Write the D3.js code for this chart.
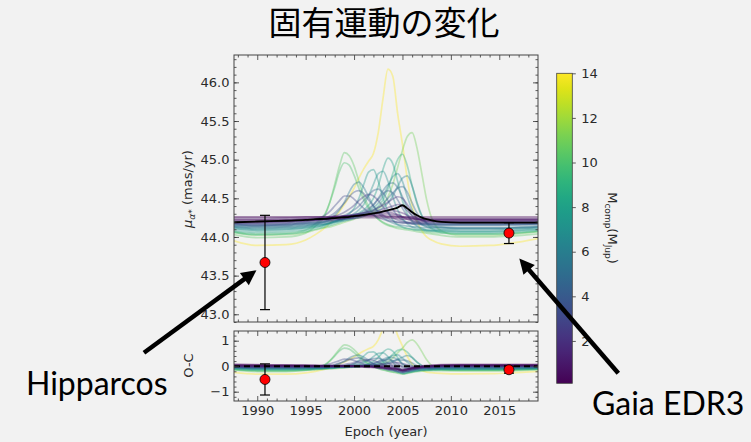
<!DOCTYPE html>
<html>
<head>
<meta charset="utf-8">
<script src="https://cdn.jsdelivr.net/npm/d3@7"></script>
<style>
body { margin: 0; background: #f2f2f2; }
svg { display: block; }
</style>
</head>
<body>
<div id="chart"></div>
<script>
// epochs shared by all model curves (year)
const epochs = [1987.6, 1990, 1993, 1995, 1996, 1997, 1997.5, 1998, 1998.5, 1999, 1999.5, 2000, 2000.5,
  2001, 2001.5, 2002, 2002.5, 2003, 2003.5, 2004, 2004.5, 2005, 2005.5, 2006, 2006.5, 2007, 2007.5,
  2008, 2009, 2011, 2014, 2019];

// best fit orbit (black line), mu_alpha* in mas/yr
const bestFit = [44.19, 44.20, 44.21, 44.22, 44.23, 44.235, 44.24, 44.245, 44.25, 44.255, 44.26, 44.27, 44.275,
  44.285, 44.295, 44.305, 44.315, 44.33, 44.345, 44.36, 44.38, 44.41, 44.37, 44.32, 44.28, 44.25, 44.23,
  44.215, 44.195, 44.185, 44.185, 44.185];

// companion mass of each sampled orbit (M_jup)
const curveMasses = [14, 11, 10.5, 10, 9, 8, 7.5, 7, 6.6, 6.2, 5.8, 5.3, 4.8, 4.4, 4.0, 3.6, 3.0, 2.6, 2.2, 1.8, 1.4, 1.2, 1.0, 0.7, 0.4, 0.2];

// mu_alpha* of each sampled orbit at the epochs above
const curveValues = [
  [43.95,43.89,43.90,43.96,44.03, 44.12,44.18,44.25,44.33,44.42,44.52,44.63,44.76,44.88,44.98,45.08,45.35,45.80,46.17,46.08,45.60,45.20,44.75,44.40,44.20,44.08,44.00,43.96, 43.91,43.88,43.89,43.98],
  [44.06,44.02,44.03,44.06,44.09, 44.12,44.13,44.15,44.17,44.19,44.21,44.23,44.25,44.27,44.29,44.32,44.36,44.42,44.52,44.68,44.90,45.12,45.30,45.35,45.15,44.82,44.48,44.25, 44.08,44.02,44.02,44.07],
  [44.03,43.99,44.00,44.05,44.14, 44.28,44.45,44.68,44.92,45.09,45.05,44.92,44.72,44.53,44.40,44.30,44.23,44.18,44.15,44.13,44.11,44.10,44.09,44.08,44.07,44.06,44.05,44.04, 44.02,44.00,44.00,44.04],
  [44.07,44.04,44.05,44.09,44.17, 44.30,44.45,44.64,44.85,44.96,44.93,44.80,44.63,44.48,44.37,44.29,44.23,44.19,44.16,44.14,44.13,44.12,44.11,44.10,44.09,44.08,44.07,44.06, 44.05,44.04,44.04,44.07],
  [44.06,44.03,44.04,44.07,44.10, 44.13,44.15,44.17,44.19,44.21,44.23,44.25,44.27,44.29,44.32,44.35,44.40,44.48,44.62,44.82,45.00,45.07,44.92,44.66,44.43,44.27,44.17,44.11, 44.06,44.04,44.04,44.08],
  [44.08,44.06,44.07,44.09,44.12, 44.15,44.17,44.19,44.21,44.23,44.25,44.28,44.31,44.35,44.41,44.50,44.66,44.88,45.02,44.95,44.72,44.47,44.30,44.20,44.14,44.11,44.09,44.08, 44.07,44.06,44.06,44.09],
  [44.10,44.08,44.09,44.11,44.13, 44.16,44.18,44.20,44.23,44.26,44.30,44.37,44.50,44.68,44.84,44.87,44.72,44.50,44.33,44.22,44.16,44.13,44.11,44.10,44.09,44.09,44.08,44.08, 44.08,44.07,44.07,44.10],
  [44.11,44.09,44.10,44.12,44.14, 44.16,44.18,44.20,44.22,44.24,44.27,44.30,44.35,44.42,44.53,44.68,44.82,44.85,44.72,44.52,44.35,44.24,44.17,44.13,44.11,44.10,44.09,44.09, 44.09,44.08,44.08,44.11],
  [44.12,44.10,44.11,44.13,44.15, 44.17,44.18,44.20,44.21,44.23,44.25,44.27,44.29,44.31,44.34,44.38,44.44,44.53,44.66,44.78,44.82,44.72,44.52,44.35,44.23,44.16,44.13,44.11, 44.10,44.10,44.10,44.12],
  [44.13,44.11,44.12,44.14,44.16, 44.17,44.18,44.19,44.20,44.21,44.22,44.24,44.25,44.27,44.29,44.31,44.34,44.38,44.44,44.53,44.65,44.76,44.79,44.66,44.45,44.28,44.18,44.14, 44.12,44.11,44.11,44.13],
  [44.13,44.12,44.13,44.15,44.17, 44.20,44.23,44.28,44.35,44.45,44.58,44.68,44.71,44.64,44.52,44.40,44.31,44.25,44.21,44.18,44.16,44.15,44.14,44.13,44.13,44.12,44.12,44.12, 44.12,44.11,44.11,44.13],
  [44.14,44.13,44.14,44.16,44.17, 44.19,44.20,44.21,44.22,44.23,44.24,44.26,44.28,44.31,44.35,44.41,44.50,44.60,44.68,44.70,44.64,44.52,44.38,44.27,44.20,44.16,44.14,44.13, 44.13,44.12,44.12,44.14],
  [44.15,44.14,44.15,44.17,44.18, 44.19,44.20,44.21,44.22,44.23,44.24,44.25,44.27,44.29,44.31,44.34,44.38,44.43,44.50,44.57,44.63,44.65,44.58,44.44,44.31,44.22,44.18,44.16, 44.15,44.15,44.15,44.16],
  [44.16,44.15,44.16,44.18,44.19, 44.21,44.22,44.24,44.26,44.28,44.31,44.35,44.40,44.47,44.54,44.60,44.62,44.57,44.47,44.36,44.27,44.22,44.19,44.17,44.16,44.16,44.16,44.16, 44.16,44.16,44.16,44.17],
  [44.16,44.15,44.16,44.18,44.19, 44.20,44.21,44.22,44.23,44.25,44.26,44.28,44.30,44.33,44.37,44.42,44.49,44.56,44.60,44.57,44.48,44.37,44.27,44.21,44.18,44.17,44.16,44.16, 44.16,44.16,44.16,44.17],
  [44.17,44.16,44.17,44.19,44.21, 44.24,44.27,44.31,44.37,44.44,44.52,44.58,44.60,44.56,44.48,44.40,44.33,44.28,44.24,44.21,44.19,44.18,44.18,44.17,44.17,44.17,44.17,44.17, 44.17,44.17,44.17,44.18],
  [44.18,44.17,44.18,44.20,44.23, 44.28,44.33,44.40,44.47,44.53,44.53,44.49,44.43,44.37,44.32,44.28,44.25,44.23,44.21,44.20,44.19,44.19,44.18,44.18,44.18,44.18,44.18,44.18, 44.18,44.18,44.18,44.18],
  [44.18,44.18,44.19,44.21,44.22, 44.24,44.25,44.27,44.29,44.32,44.36,44.41,44.47,44.52,44.55,44.53,44.47,44.39,44.31,44.25,44.22,44.20,44.19,44.19,44.19,44.19,44.19,44.19, 44.19,44.19,44.19,44.19],
  [44.19,44.19,44.20,44.21,44.22, 44.23,44.24,44.25,44.26,44.27,44.28,44.29,44.30,44.31,44.33,44.35,44.38,44.41,44.45,44.49,44.52,44.50,44.42,44.32,44.25,44.21,44.20,44.20, 44.20,44.20,44.20,44.20],
  [44.20,44.20,44.21,44.22,44.22, 44.23,44.24,44.25,44.26,44.27,44.28,44.29,44.30,44.31,44.32,44.33,44.34,44.36,44.38,44.40,44.42,44.40,44.34,44.28,44.24,44.22,44.21,44.21, 44.21,44.21,44.21,44.21],
  [44.21,44.21,44.22,44.23,44.23, 44.24,44.24,44.25,44.25,44.26,44.26,44.27,44.28,44.29,44.30,44.31,44.32,44.33,44.34,44.34,44.33,44.31,44.28,44.25,44.23,44.22,44.22,44.22, 44.22,44.22,44.22,44.22],
  [44.19,44.19,44.20,44.21,44.21, 44.22,44.22,44.23,44.23,44.24,44.25,44.26,44.27,44.28,44.29,44.30,44.31,44.32,44.32,44.31,44.29,44.26,44.23,44.21,44.20,44.20,44.20,44.20, 44.20,44.20,44.20,44.20],
  [44.23,44.23,44.24,44.24,44.25, 44.25,44.25,44.26,44.26,44.26,44.27,44.27,44.28,44.28,44.29,44.29,44.30,44.30,44.30,44.29,44.28,44.26,44.25,44.24,44.23,44.23,44.23,44.23, 44.23,44.23,44.23,44.23],
  [44.25,44.25,44.25,44.26,44.26, 44.26,44.26,44.27,44.27,44.27,44.27,44.28,44.28,44.28,44.28,44.28,44.28,44.28,44.27,44.27,44.26,44.25,44.25,44.24,44.24,44.24,44.24,44.24, 44.24,44.24,44.24,44.24],
  [44.22,44.22,44.22,44.23,44.23, 44.23,44.23,44.24,44.24,44.24,44.24,44.24,44.25,44.25,44.25,44.25,44.25,44.25,44.25,44.24,44.24,44.23,44.23,44.23,44.22,44.22,44.22,44.22, 44.22,44.22,44.22,44.22],
  [44.26,44.26,44.26,44.26,44.26, 44.26,44.26,44.26,44.26,44.27,44.27,44.27,44.27,44.27,44.27,44.27,44.27,44.27,44.26,44.26,44.26,44.26,44.26,44.26,44.26,44.26,44.26,44.26, 44.26,44.26,44.26,44.26]
];

// measurements
const obsNames = ["Hipparcos", "Gaia EDR3"];
const obsEpoch = [1990.8, 2016.0];
const obsPm = [43.67, 44.05];
const obsErr = [0.61, 0.135];
const obsResid = [-0.52, -0.14];
// where the arrows point, in data units of the upper panel
const arrowTip = [[1989.92, 43.57], [2017.07, 43.72]];

const xTicks = [1990, 1995, 2000, 2005, 2010, 2015];
const pmTicks = [43.0, 43.5, 44.0, 44.5, 45.0, 45.5, 46.0];
const ocTicks = [-1, 0, 1];
const massTicks = [2, 4, 6, 8, 10, 12, 14];
const titleText = "固有運動の変化";

// ---- setup
const W = 751, H = 442;
const svg = d3.select("#chart").append("svg")
  .attr("width", W).attr("height", H)
  .style("background", "#f2f2f2");

const x = d3.scaleLinear().domain([1987.6, 2019.0]).range([234, 538]);
const y = d3.scaleLinear().domain([42.9, 46.354]).range([322, 55]);
const yr = d3.scaleLinear().domain([-1.365, 1.38]).range([401, 331]);
const cy = d3.scaleLinear().domain([0.1, 14]).range([383.3, 73.3]);
const colorOf = m => d3.interpolateViridis((m - 0.1) / 13.9);

const xMinor = d3.range(1988, 2019).filter(d => d % 5 !== 0);
const pmMinor = d3.range(429, 464).map(d => d / 10);
const ocMinor = d3.range(-6, 7).map(d => d / 5);

const defs = svg.append("defs");
defs.append("clipPath").attr("id", "clipTop").append("rect")
  .attr("x", 234).attr("y", 55).attr("width", 304).attr("height", 267);
defs.append("clipPath").attr("id", "clipBot").append("rect")
  .attr("x", 234).attr("y", 331).attr("width", 304).attr("height", 70);

// draw ticks inward on all four sides
function drawAxes(ys, yMajor, yMinor, yFmt, xLabels) {
  const [xa, xb] = x.range();
  const [yb, ya] = ys.range();
  const g = svg.append("g");
  const add = (axis, tx, ty) => {
    const a = g.append("g").attr("transform", `translate(${tx},${ty})`).call(axis);
    a.select(".domain").remove();
    a.attr("font-family", "DejaVu Sans").attr("font-size", 13);
    a.selectAll("line").attr("stroke", "#333").attr("stroke-width", 0.8);
    a.selectAll("text").attr("fill", "#2a2a2a");
  };
  add(d3.axisBottom(x).tickValues(xTicks).tickSizeInner(-5).tickSizeOuter(0).tickPadding(4.5)
    .tickFormat(xLabels ? d3.format("d") : ""), 0, yb);
  add(d3.axisBottom(x).tickValues(xMinor).tickSizeInner(-2.5).tickSizeOuter(0).tickFormat(""), 0, yb);
  add(d3.axisTop(x).tickValues(xTicks).tickSizeInner(-5).tickSizeOuter(0).tickFormat(""), 0, ya);
  add(d3.axisTop(x).tickValues(xMinor).tickSizeInner(-2.5).tickSizeOuter(0).tickFormat(""), 0, ya);
  add(d3.axisLeft(ys).tickValues(yMajor).tickSizeInner(-5).tickSizeOuter(0).tickPadding(4.5).tickFormat(yFmt), xa, 0);
  add(d3.axisLeft(ys).tickValues(yMinor).tickSizeInner(-2.5).tickSizeOuter(0).tickFormat(""), xa, 0);
  add(d3.axisRight(ys).tickValues(yMajor).tickSizeInner(-5).tickSizeOuter(0).tickFormat(""), xb, 0);
  add(d3.axisRight(ys).tickValues(yMinor).tickSizeInner(-2.5).tickSizeOuter(0).tickFormat(""), xb, 0);
  g.append("rect").attr("x", xa).attr("y", ya).attr("width", xb - xa).attr("height", yb - ya)
    .attr("fill", "none").attr("stroke", "#444").attr("stroke-width", 1);
}

const lineOf = ys => d3.line().x((d, i) => x(epochs[i])).y(d => ys(d)).curve(d3.curveMonotoneX);

// ---- upper panel
const topPanel = svg.append("g").attr("clip-path", "url(#clipTop)");
topPanel.selectAll("path.model").data(curveValues).enter().append("path")
  .attr("class", "model")
  .attr("d", lineOf(y))
  .attr("fill", "none")
  .attr("stroke", (d, i) => colorOf(curveMasses[i]))
  .attr("stroke-opacity", 0.38)
  .attr("stroke-width", 1.7);
topPanel.append("path").datum(bestFit).attr("d", lineOf(y))
  .attr("fill", "none").attr("stroke", "#000").attr("stroke-width", 1.8);

function drawPoints(g, ys, vals) {
  obsEpoch.forEach((e, i) => {
    const px = x(e), lo = ys(vals[i] - obsErr[i]), hi = ys(vals[i] + obsErr[i]);
    g.append("line").attr("x1", px).attr("x2", px).attr("y1", lo).attr("y2", hi)
      .attr("stroke", "#000").attr("stroke-width", 1.2);
    [lo, hi].forEach(v => g.append("line").attr("x1", px - 5).attr("x2", px + 5)
      .attr("y1", v).attr("y2", v).attr("stroke", "#000").attr("stroke-width", 1.2));
    g.append("circle").attr("cx", px).attr("cy", ys(vals[i])).attr("r", 5)
      .attr("fill", "#ff0000").attr("stroke", "#000").attr("stroke-width", 0.8);
  });
}
drawPoints(topPanel, y, obsPm);
drawAxes(y, pmTicks, pmMinor, d3.format(".1f"), false);

// ---- residual panel
const resid = curveValues.map(vs => vs.map((v, i) => v - bestFit[i]));
const botPanel = svg.append("g").attr("clip-path", "url(#clipBot)");
botPanel.selectAll("path.model").data(resid).enter().append("path")
  .attr("class", "model")
  .attr("d", lineOf(yr))
  .attr("fill", "none")
  .attr("stroke", (d, i) => colorOf(curveMasses[i]))
  .attr("stroke-opacity", 0.38)
  .attr("stroke-width", 1.7);
botPanel.append("line").attr("x1", x.range()[0]).attr("x2", x.range()[1])
  .attr("y1", yr(0)).attr("y2", yr(0))
  .attr("stroke", "#000").attr("stroke-width", 2).attr("stroke-dasharray", "6,4");
drawPoints(botPanel, yr, obsResid);
drawAxes(yr, ocTicks, ocMinor, d3.format("d"), true);

// axis titles
svg.append("text").attr("x", 386).attr("y", 435.5).attr("text-anchor", "middle")
  .attr("font-family", "DejaVu Sans").attr("font-size", 13).attr("fill", "#2a2a2a")
  .text("Epoch (year)");

const yl = svg.append("text").attr("transform", "translate(192,189) rotate(-90)")
  .attr("text-anchor", "middle").attr("font-family", "DejaVu Sans").attr("font-size", 13).attr("fill", "#2a2a2a");
yl.append("tspan").attr("font-style", "italic").text("μ");
yl.append("tspan").attr("font-style", "italic").attr("font-size", 9).attr("dy", 3).text("α");
yl.append("tspan").attr("font-size", 9).text("*");
yl.append("tspan").attr("dy", -3).text(" (mas/yr)");

svg.append("text").attr("transform", "translate(193,365.5) rotate(-90)")
  .attr("text-anchor", "middle").attr("font-family", "DejaVu Sans").attr("font-size", 13).attr("fill", "#2a2a2a")
  .text("O-C");

// ---- colorbar
const grad = defs.append("linearGradient").attr("id", "viridis")
  .attr("x1", 0).attr("y1", 1).attr("x2", 0).attr("y2", 0);
d3.range(0, 1.0001, 0.05).forEach(t => grad.append("stop")
  .attr("offset", t).attr("stop-color", d3.interpolateViridis(t)));
svg.append("rect").attr("x", 556.7).attr("y", cy(14)).attr("width", 15.6).attr("height", cy(0.1) - cy(14))
  .attr("fill", "url(#viridis)").attr("stroke", "#444").attr("stroke-width", 0.8);
const cax = svg.append("g").attr("transform", "translate(572.3,0)")
  .call(d3.axisRight(cy).tickValues(massTicks).tickSize(3.5).tickPadding(5.5));
cax.select(".domain").remove();
cax.attr("font-family", "DejaVu Sans").attr("font-size", 13);
cax.selectAll("line").attr("stroke", "#333").attr("stroke-width", 0.8);
cax.selectAll("text").attr("fill", "#2a2a2a");

const cl = svg.append("text").attr("transform", "translate(608,228) rotate(90)")
  .attr("text-anchor", "middle").attr("font-family", "DejaVu Sans").attr("font-size", 13).attr("fill", "#2a2a2a");
cl.append("tspan").text("M");
cl.append("tspan").attr("font-size", 9).attr("dy", 3).text("comp");
cl.append("tspan").attr("dy", -3).text("(M");
cl.append("tspan").attr("font-size", 9).attr("dy", 3).text("Jup");
cl.append("tspan").attr("dy", -3).text(")");

// ---- title
svg.append("text").attr("x", 384).attr("y", 35).attr("text-anchor", "middle")
  .attr("font-family", "Noto Sans CJK JP").attr("font-size", 33).attr("fill", "#000")
  .text(titleText);

// ---- annotations (arrow tail and text given as offsets from the tip)
const tailOff = [[-112.5, 82.5], [99, 114.7]];
const textOff = [[-230.5, 124.8], [72.7, 156.4]];
arrowTip.forEach((tp, i) => {
  const tx = x(tp[0]), ty = y(tp[1]);
  const sx = tx + tailOff[i][0], sy = ty + tailOff[i][1];
  const len = Math.hypot(tx - sx, ty - sy);
  const ux = (tx - sx) / len, uy = (ty - sy) / len;
  const hl = 15, hw = 7.5;
  const bx = tx - ux * hl, by = ty - uy * hl;
  svg.append("line").attr("x1", sx).attr("y1", sy).attr("x2", bx + ux * 2).attr("y2", by + uy * 2)
    .attr("stroke", "#000").attr("stroke-width", 4.5);
  svg.append("polygon")
    .attr("points", [[tx, ty], [bx - uy * hw, by + ux * hw], [bx + uy * hw, by - ux * hw]].map(p => p.join(",")).join(" "))
    .attr("fill", "#000");
  svg.append("text").attr("x", tx + textOff[i][0]).attr("y", ty + textOff[i][1])
    .attr("font-family", "Lato").attr("font-size", 32).attr("fill", "#000")
    .text(obsNames[i]);
});
</script>
</body>
</html>
